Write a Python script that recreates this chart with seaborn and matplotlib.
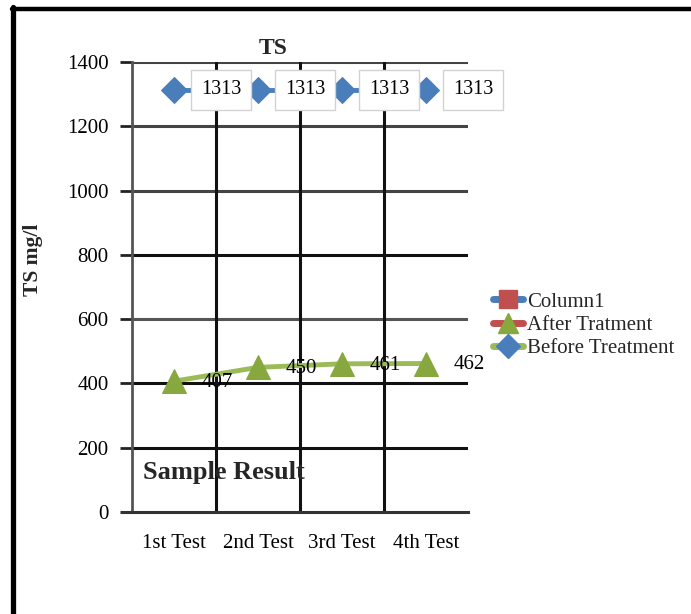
import matplotlib
matplotlib.use("Agg")
import matplotlib.pyplot as plt
from matplotlib.lines import Line2D
import seaborn as sns
import pandas as pd

categories = ["1st Test", "2nd Test", "3rd Test", "4th Test"]
before_treatment = [1313, 1313, 1313, 1313]
after_treatment = [407, 450, 461, 462]
column1 = []
y_ticks = [0, 200, 400, 600, 800, 1000, 1200, 1400]

sns.set_theme(style="white")
plt.rcParams["font.family"] = ["Liberation Serif", "DejaVu Serif"]

W, H = 691, 614
fig = plt.figure(figsize=(W / 100, H / 100), dpi=100)
ax = fig.add_axes([132 / W, 1 - 512 / H, 336 / W, 450 / H])

BLUE = "#4A7EBB"
GREEN = "#9BBB59"
RED = "#C0504D"

df_before = pd.DataFrame({"Test": categories, "TS": before_treatment})
df_after = pd.DataFrame({"Test": categories, "TS": after_treatment})

sns.lineplot(data=df_before, x="Test", y="TS", ax=ax, color=BLUE, lw=3.5,
             marker="D", markersize=13, markeredgecolor=BLUE, zorder=3)
sns.lineplot(data=df_after, x="Test", y="TS", ax=ax, color=GREEN, lw=3.5,
             marker="^", markersize=17, markerfacecolor="#86A83E",
             markeredgecolor="#86A83E", zorder=3)

ax.set_xlim(-0.5, 3.5)
ax.set_ylim(0, 1400)
ax.set_yticks(y_ticks)
ax.set_xticks(range(len(categories)))
ax.set_xticklabels(categories)
ax.set_xlabel("")
ax.set_ylabel("")

# gridlines
grid_cols = {200: "#111111", 400: "#111111", 600: "#555555",
             800: "#111111", 1000: "#444444", 1200: "#444444", 1400: "#444444"}
for v in y_ticks[1:]:
    ax.axhline(v, color=grid_cols[v], lw=2.2, zorder=1)
for xv in [0.5, 1.5, 2.5]:
    ax.axvline(xv, color="#111111", lw=2.2, zorder=1)

for s in ["top", "right"]:
    ax.spines[s].set_visible(False)
ax.spines["left"].set_color("#555555")
ax.spines["left"].set_linewidth(2)
ax.spines["bottom"].set_color("#333333")
ax.spines["bottom"].set_linewidth(2.2)
ax.spines["bottom"].set_bounds(-0.5 - 10 / 84, 3.5)

ax.tick_params(axis="y", direction="out", length=9, width=2, color="#222222",
               pad=8, labelsize=15, left=True)
ax.tick_params(axis="x", length=0, pad=16, labelsize=15)
for lab in ax.get_yticklabels() + ax.get_xticklabels():
    lab.set_color("black")

# data labels
for i, v in enumerate(after_treatment):
    ax.annotate(str(v), (i, v), xytext=(43 * 0.72, -1), textcoords="offset points",
                ha="center", va="center", fontsize=15, color="black", zorder=4)
for i, v in enumerate(before_treatment):
    ax.annotate(str(v), (i, v), xytext=(47 * 0.72, 0), textcoords="offset points",
                ha="center", va="center", fontsize=14.5, color="black", zorder=4,
                bbox=dict(boxstyle="square,pad=0.5", fc="white", ec="#d2d2d2", lw=1))

# titles and texts
fig.text(273 / W, 1 - 48 / H, "TS", ha="center", va="center", fontsize=17,
         fontweight="bold")
fig.text(33 / W, 1 - 260 / H, "TS mg/l", ha="center", va="center", fontsize=15.5,
         fontweight="bold", rotation=90)
fig.text(143 / W, 1 - 472 / H, "Sample Result", ha="left", va="center",
         fontsize=19, fontweight="bold")

# legend
handles = [
    Line2D([], [], color=BLUE, lw=5, marker="s", markersize=13,
           markerfacecolor=RED, markeredgecolor=RED),
    Line2D([], [], color=RED, lw=5, marker="^", markersize=15,
           markerfacecolor="#86A83E", markeredgecolor="#86A83E"),
    Line2D([], [], color=GREEN, lw=5, marker="D", markersize=12,
           markerfacecolor=BLUE, markeredgecolor=BLUE),
]
labels = ["Column1", "After Tratment", "Before Treatment"]
fig.legend(handles, labels, loc="upper left", bbox_to_anchor=(493 / W, 1 - 292 / H),
           frameon=False, fontsize=15, handlelength=1.45, handletextpad=0.2,
           labelspacing=0.18, borderpad=0, borderaxespad=0)

# outer border (left and top only)
fig.add_artist(Line2D([13.5 / W, 13.5 / W], [0, 1 - 7 / H], color="black", lw=3.8,
                      transform=fig.transFigure))
fig.add_artist(Line2D([11.5 / W, 1], [1 - 9 / H, 1 - 9 / H], color="black", lw=3.2,
                      transform=fig.transFigure))

fig.savefig("out.png", dpi=100)
